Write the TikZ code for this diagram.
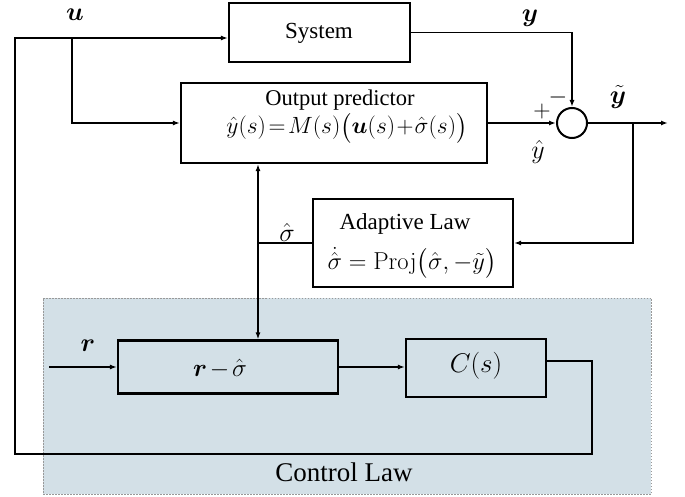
\RequirePackage{fix-cm}
\documentclass[tikz,border=0pt]{standalone}
\usepackage{amsmath}
\usepackage{bm}
\usepackage[no-math]{fontspec}
\setmainfont{Liberation Serif}
\usetikzlibrary{arrows.meta}
\definecolor{ctrlfill}{RGB}{211,224,231}
\newcommand{\fs}[1]{\fontsize{#1}{#1}\selectfont}
\tikzset{
  blk/.style={draw, line width=2.2pt, inner sep=0pt},
  txt/.style={inner sep=0pt},
  ctrlbox/.style={draw=gray!80, dash pattern=on 1.5pt off 1.5pt, line width=0.8pt, fill=ctrlfill, inner sep=0pt},
  conn/.style={line width=1.6pt}
}
\begin{document}
\begin{tikzpicture}[x=1pt,y=-1pt, >={Latex[length=7pt,width=5pt]}]
\useasboundingbox (0,0) rectangle (685,497);
\node[ctrlbox, minimum width=608, minimum height=196] (ctrl) at (347,396) {};
\node[blk, minimum width=181, minimum height=59] (sys) at (319.5,32.5) {};
\node[txt, font=\fs{23}] (systxt) at (319,33) {System};
\node[blk, minimum width=306, minimum height=80] (pred) at (334,123) {};
\node[txt, font=\fs{22.5}] (predtxt) at (340,100) {Output predictor};
\node[txt] (predeq) at (347,128) {\fs{23.5}\thickmuskip=2mu\medmuskip=1mu$\hat{y}(s)=M(s)\bigl(\bm{u}(s)+\hat{\sigma}(s)\bigr)$};
\node[draw, circle, line width=2pt, minimum size=30, inner sep=0pt] (sum) at (572,123) {};
\node[blk, minimum width=200, minimum height=88] (adapt) at (413,243) {};
\node[txt, font=\fs{23}] (adtxt) at (405,224) {Adaptive Law};
\node[txt] (adeq) at (412,263) {\fs{24.5}$\dot{\hat{\sigma}} = \mathrm{Proj}\bigl(\hat{\sigma},-\tilde{y}\bigr)$};
\node[blk, minimum width=220, minimum height=53] (rs) at (228,367) {};
\node[txt] (rstxt) at (220,369) {\fs{25}\medmuskip=2mu$\bm{r}-\hat{\sigma}$};
\node[blk, minimum width=140, minimum height=58] (cs) at (476,368) {};
\node[txt] (cstxt) at (476,366) {\fs{27}$C(s)$};
\node[txt, font=\fs{27}] (cltxt) at (344,472) {Control Law};
% labels
\node[txt] (ulab) at (75,15) {\fs{26}$\bm{u}$};
\node[txt] (ylab) at (530,18) {\fs{26}$\bm{y}$};
\node[txt] (ytlab) at (618,97) {\fs{26}$\tilde{\bm{y}}$};
\node[txt] (plus) at (542,112) {\fs{24}$+$};
\node[txt] (minus) at (558,98) {\fs{24}$-$};
\node[txt] (yhlab) at (538,152) {\fs{26}$\hat{y}$};
\node[txt] (siglab) at (287,232) {\fs{26}$\hat{\sigma}$};
\node[txt] (rlab) at (88,346) {\fs{26}$\bm{r}$};
% coordinates
\coordinate (fbT) at (15,38);
\coordinate (uB) at (72,38);
\coordinate (fbB) at (15,454);
\coordinate (cR) at (592,361);
\coordinate (cRB) at (592,454);
\coordinate (yout) at (668,123);
\coordinate (br) at (633,123);
\coordinate (sg) at (258,243);
\coordinate (rin) at (49,367);
% connectors
\draw[conn,->] ([yshift=7pt]cs.east) -- (cR) -- (cRB) -- (fbB) -- (fbT) -- (fbT -| sys.west);
\draw[conn,->] (uB) |- (pred.west);
\draw[conn,->] (sys.east) -| (sum.north);
\draw[conn,->] (pred.east) -- (sum.west);
\draw[conn,->] (sum.east) -- (yout);
\draw[conn,->] (br) |- (adapt.east);
\draw[conn] (adapt.west) -- (sg);
\draw[conn,->] (sg) -- (sg |- pred.south);
\draw[conn,->] (sg) -- (sg |- rs.north);
\draw[conn,->] (rin) -- (rs.west);
\draw[conn,->] (rs.east) -- (rs.east -| cs.west);
\end{tikzpicture}
\end{document}
